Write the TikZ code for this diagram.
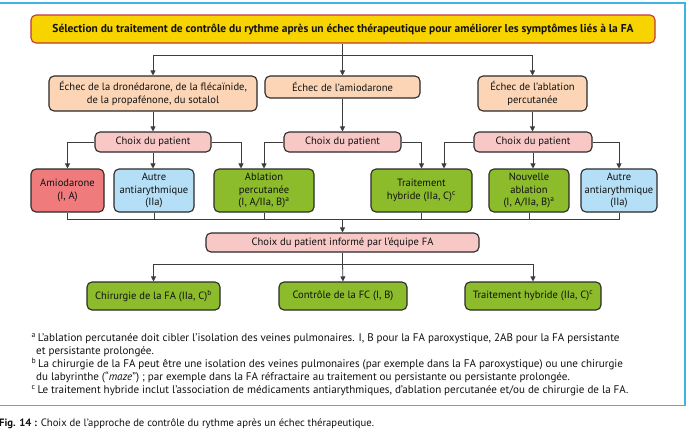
\documentclass[tikz,border=0pt]{standalone}
\usepackage{fontspec}
\setmainfont{PT Sans}
\usetikzlibrary{arrows.meta,calc}
\definecolor{framec}{HTML}{3DB4E5}
\definecolor{titlefill}{HTML}{F7D300}
\definecolor{titledraw}{HTML}{C3363E}
\definecolor{peach}{HTML}{FBD5B5}
\definecolor{pinkc}{HTML}{F8C8C6}
\definecolor{redc}{HTML}{EF7B7C}
\definecolor{bluec}{HTML}{B5DFF6}
\definecolor{greenc}{HTML}{8CBB2B}
\definecolor{boxdraw}{HTML}{2A2A2A}
\definecolor{linec}{HTML}{3C3C3C}
\definecolor{txt}{HTML}{111111}
\begin{document}
\begin{tikzpicture}[x=1bp,y=-1bp,
  box/.style={draw=boxdraw, line width=1.1bp, rounded corners=5bp, align=center,
    inner sep=1bp, text=txt, font=\fontsize{10.6}{12.6}\selectfont},
  arr/.style={draw=linec, line width=0.8bp, -{Triangle[length=5bp,width=5bp]}},
  ln/.style={draw=linec, line width=0.8bp},
  fn/.style={anchor=base west, inner sep=0pt, text=txt, font=\fontsize{11.1}{13}\selectfont}]
\useasboundingbox (0,0) rectangle (686,430);
% frame
\draw[framec, line width=1.8bp] (-10,3) -- (685,3) -- (685,405.5) -- (-10,405.5);
% title
\node[box, draw=titledraw, fill=titlefill, minimum width=624bp, minimum height=28bp,
  font=\fontsize{11.5}{13}\selectfont\bfseries] (T) at (343,29)
  {Sélection du traitement de contrôle du rythme après un échec thérapeutique pour améliorer les symptômes liés à la FA};
% level 1
\node[box, fill=peach, minimum width=208bp, minimum height=35bp] (A) at (153,93.5)
  {Échec de la dronédarone, de la flécaïnide,\\de la propafénone, du sotalol};
\node[box, fill=peach, minimum width=155bp, minimum height=22bp] (B) at (342.5,87)
  {Échec de l'amiodarone};
\node[box, fill=peach, minimum width=109bp, minimum height=35bp] (C) at (532.5,93.5)
  {Échec de l'ablation\\percutanée};
% choice
\node[box, fill=pinkc, minimum width=116bp, minimum height=20bp] (P1) at (153,142) {Choix du patient};
\node[box, fill=pinkc, minimum width=117bp, minimum height=20bp] (P2) at (342.5,142) {Choix du patient};
\node[box, fill=pinkc, minimum width=118bp, minimum height=20bp] (P3) at (533,142) {Choix du patient};
% level 3
\node[box, fill=redc, minimum width=73bp, minimum height=43bp] (L1) at (67.5,190.5) {Amiodarone\\(I, A)};
\node[box, fill=bluec, minimum width=80bp, minimum height=43bp] (L2) at (154,190.5) {Autre\\antiarythmique\\(IIa)};
\node[box, fill=greenc, minimum width=100bp, minimum height=43bp] (L3) at (264,190.5) {Ablation\\percutanée\\(I, A/IIa, B)\textsuperscript{a}};
\node[box, fill=greenc, minimum width=101bp, minimum height=43bp] (L4) at (421.5,190.5) {Traitement\\hybride (IIa, C)\textsuperscript{c}};
\node[box, fill=greenc, minimum width=80bp, minimum height=43bp] (L5) at (529,190.5) {Nouvelle\\ablation\\(I, A/IIa, B)\textsuperscript{a}};
\node[box, fill=bluec, minimum width=76bp, minimum height=43bp] (L6) at (619,190.5) {Autre\\antiarythmique\\(IIa)};
% informed choice
\node[box, fill=pinkc, minimum width=273bp, minimum height=19bp] (I) at (342.5,242.5) {Choix du patient informé par l'équipe FA};
% level 5
\node[box, fill=greenc, minimum width=133bp, minimum height=28bp] (M1) at (153.5,296) {Chirurgie de la FA (IIa, C)\textsuperscript{b}};
\node[box, fill=greenc, minimum width=128bp, minimum height=28bp] (M2) at (343,296) {Contrôle de la FC (I, B)};
\node[box, fill=greenc, minimum width=136bp, minimum height=28bp] (M3) at (533,296) {Traitement hybride (IIa, C)\textsuperscript{c}};
% coordinates
\coordinate (s1) at (342.5,55);
\coordinate (bus) at (342.5,219);
\coordinate (s2) at (342.5,264);
% connectors top
\draw[ln] (T.south -| s1) -- (s1);
\draw[arr] (s1) -| (A.north);
\draw[arr] (s1) -- (B.north);
\draw[arr] (s1) -| (C.north);
\draw[arr] (A.south) -- (P1.north);
\draw[arr] (B.south) -- (P2.north);
\draw[arr] (C.south) -- (C.south |- P3.north);
% choice connectors
\draw[arr] (P1.west) -| (L1.north);
\draw[arr] (P1.south) -- (P1.south |- L2.north);
\draw[arr] (P1.east) -| ([xshift=-23bp]L3.north);
\draw[arr] (P2.west) -| (L3.north);
\draw[arr] (P2.east) -| (L4.north);
\draw[arr] (P3.west) -| ([xshift=22.5bp]L4.north);
\draw[arr] (P3.south) -- (P3.south |- L5.north);
\draw[arr] (P3.east) -| (L6.north);
% bus
\draw[ln] (L1.south) |- (L6.south |- bus) -- (L6.south);
\draw[ln] (L2.south) -- (L2.south |- bus);
\draw[ln] (L3.south) -- (L3.south |- bus);
\draw[ln] (L4.south) -- (L4.south |- bus);
\draw[ln] (L5.south) -- (L5.south |- bus);
\draw[arr] (bus) -- (I.north);
% bottom
\draw[ln] (I.south) -- (s2);
\draw[arr] (s2) -| (M1.north);
\draw[arr] (s2) -- (M2.north);
\draw[arr] (s2) -| (M3.north);
% footnotes
\node[fn] (fa1) at (31.5,341) {\textsuperscript{a}\,L'ablation percutanée doit cibler l'isolation des veines pulmonaires. I, B pour la FA paroxystique, 2AB pour la FA persistante};
\node[fn] (fa2) at (36,354) {et persistante prolongée.};
\node[fn] (fb1) at (31.5,367) {\textsuperscript{b}\,La chirurgie de la FA peut être une isolation des veines pulmonaires (par exemple dans la FA paroxystique) ou une chirurgie};
\node[fn] (fb2) at (36,380) {du labyrinthe (\char"201C\textit{maze}\char"201D) ; par exemple dans la FA réfractaire au traitement ou persistante ou persistante prolongée.};
\node[fn] (fc) at (31.5,393) {\textsuperscript{c}\,Le traitement hybride inclut l'association de médicaments antiarythmiques, d'ablation percutanée et/ou de chirurgie de la FA.};
% caption
\node[fn, font=\fontsize{10.7}{12}\selectfont] (cap) at (-1,426) {\textbf{Fig. 14 :} Choix de l'approche de contrôle du rythme après un échec thérapeutique.};
\end{tikzpicture}
\end{document}
